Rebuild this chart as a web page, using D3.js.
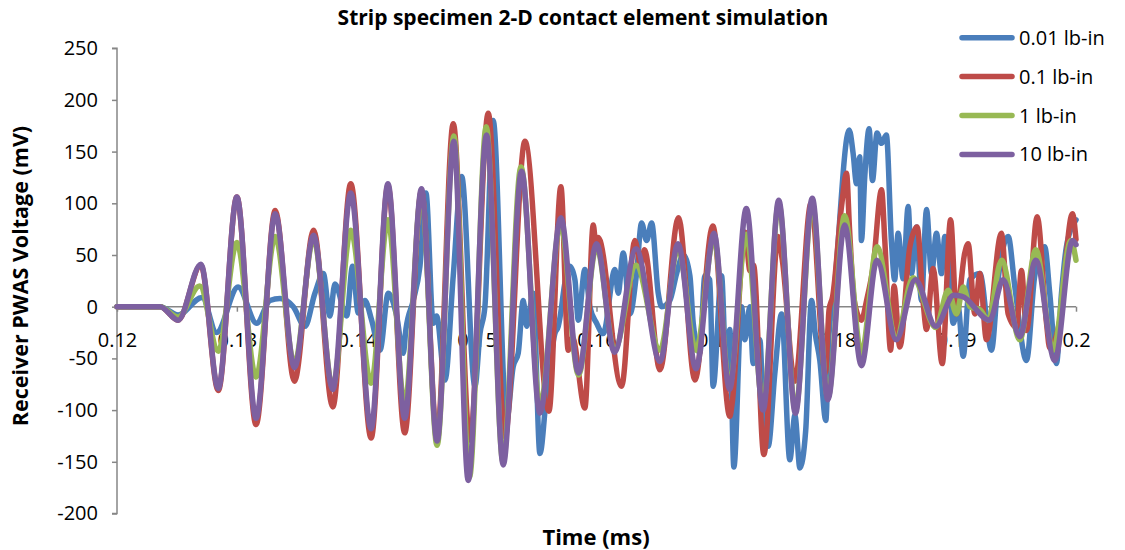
<!DOCTYPE html>
<html>
<head>
<meta charset="utf-8">
<script src="https://cdn.jsdelivr.net/npm/d3@7"></script>
<style>
  body { margin: 0; background: #fff; }
  text { font-family: "Open Sans", sans-serif; fill: #000; }
  .axis path, .axis line { stroke: #868686; stroke-width: 1.5; }
</style>
</head>
<body>
<div id="chart"></div>
<script>
// data: [time (ms), voltage (mV)]
var labels = ["0.01 lb-in", "0.1 lb-in", "1 lb-in", "10 lb-in"];
var colors = ["#4a7ebb", "#be4b48", "#98b954", "#7d60a0"];
var xTicks = [0.12, 0.13, 0.14, 0.15, 0.16, 0.17, 0.18, 0.19, 0.2];
var yTicks = [-200, -150, -100, -50, 0, 50, 100, 150, 200, 250];

var s001 = [[0.1200,0],[0.1236,0],[0.1251,-8],[0.1271,9],[0.1283,-25],[0.1301,19],[0.13165,-16],[0.13276,6],[0.1336,8],[0.13471,0],[0.13568,-19],[0.13651,13],[0.13721,32],[0.13776,-9],[0.13818,22],[0.13916,-9],[0.13965,39],[0.14013,-6],[0.14068,6],[0.14124,-13],[0.14194,-42],[0.14263,13],[0.14333,-9],[0.14388,-45],[0.1441,-22],[0.14471,6],[0.14527,39],[0.14577,110],[0.14638,-16],[0.14666,-9],[0.14736,-71],[0.14805,30],[0.14875,126],[0.14986,-77],[0.15028,-26],[0.15069,0],[0.15138,180],[0.1525,-110],[0.15305,-58],[0.15347,-45],[0.15389,6],[0.15417,-19],[0.15472,13],[0.15528,-142],[0.15584,-84],[0.15653,-26],[0.15681,-19],[0.15709,0],[0.15723,13],[0.15778,39],[0.1582,26],[0.15848,-13],[0.15903,36],[0.15945,0],[0.16001,-16],[0.16056,-26],[0.16154,36],[0.16181,13],[0.16223,52],[0.16279,-7],[0.16334,32],[0.16376,81],[0.16418,64],[0.1646,81],[0.16515,13],[0.16543,0],[0.16612,6],[0.16668,32],[0.16723,50],[0.16779,30],[0.16807,-16],[0.16862,-45],[0.16904,30],[0.16945,26],[0.16973,-77],[0.17043,30],[0.17084,-70],[0.17112,-22],[0.17146,-155],[0.1721,0],[0.17238,-32],[0.17279,0],[0.17307,-55],[0.17363,-32],[0.1739,-100],[0.17432,-135],[0.17488,-64],[0.17544,-7],[0.17613,-148],[0.17655,-105],[0.17697,-156],[0.17745,-120],[0.17794,6],[0.17825,-26],[0.17863,-52],[0.17913,-110],[0.1794,-26],[0.17975,6],[0.18108,171],[0.18141,148],[0.18169,119],[0.18196,145],[0.1821,64],[0.18238,126],[0.18274,172],[0.18302,122],[0.1834,168],[0.18377,158],[0.18418,166],[0.1846,64],[0.18487,26],[0.18516,71],[0.18558,27],[0.186,97],[0.18628,32],[0.18669,77],[0.18711,6],[0.18753,94],[0.18795,32],[0.18836,71],[0.18878,32],[0.18906,68],[0.18947,26],[0.18975,-16],[0.19017,0],[0.19059,-48],[0.19114,26],[0.19198,32],[0.19295,-42],[0.1935,26],[0.19434,68],[0.1949,19],[0.19587,-52],[0.19656,30],[0.19739,58],[0.19781,13],[0.19837,-55],[0.19879,13],[0.1992,58],[0.2,84]];

var s01 = [[0.12,0],[0.1236,0],[0.1251,-13],[0.127,40],[0.12845,-81],[0.13,106],[0.1316,-114],[0.1332,93],[0.1348,-72],[0.1364,74],[0.138,-97],[0.1395,119],[0.1412,-127],[0.1426,117],[0.144,-122],[0.1454,112],[0.1467,-125],[0.14805,177],[0.14944,-129],[0.15097,187],[0.15236,-126],[0.15403,160],[0.15603,-101],[0.15703,116],[0.15764,-42],[0.158,-30],[0.15903,-98],[0.15973,79],[0.15995,60],[0.16014,67],[0.16209,-77],[0.1632,64],[0.1637,40],[0.164,55],[0.16529,-61],[0.16684,86],[0.16821,-71],[0.1697,78],[0.17112,-106],[0.1713,-95],[0.1724,72],[0.1728,35],[0.1731,40],[0.17396,-143],[0.17515,68],[0.1755,45],[0.17655,-72],[0.1779,100],[0.1791,-64],[0.1794,-3],[0.1797,10],[0.18044,97],[0.18086,129],[0.1811,77],[0.1815,6],[0.1821,-13],[0.18253,6],[0.18308,39],[0.18378,113],[0.18405,64],[0.18454,-42],[0.18482,20],[0.1853,-39],[0.18614,58],[0.18675,77],[0.18725,4],[0.18753,-22],[0.18808,37],[0.18884,-55],[0.18954,84],[0.19003,-7],[0.19072,52],[0.191,61],[0.19156,-7],[0.19198,32],[0.19253,-32],[0.19378,71],[0.19434,-7],[0.19504,-20],[0.19545,35],[0.19587,-23],[0.19676,87],[0.19754,-16],[0.19781,-40],[0.19865,-13],[0.1997,90],[0.2,65]];

var s1 = [[0.12,0],[0.1236,0],[0.1251,-10],[0.1269,20],[0.12845,-43],[0.13,62],[0.1316,-68],[0.1332,68],[0.1348,-55],[0.1364,66],[0.138,-78],[0.1395,74],[0.1412,-74],[0.1426,84],[0.144,-95],[0.1454,110],[0.1467,-134],[0.1481,165],[0.1494,-165],[0.1508,174],[0.1522,-150],[0.1537,135],[0.1553,-95],[0.157,80],[0.1585,-66],[0.16,58],[0.1615,-42],[0.1633,40],[0.1653,-42],[0.1668,56],[0.1683,-42],[0.1698,66],[0.1711,-75],[0.1725,70],[0.1739,-95],[0.1752,100],[0.1766,-100],[0.178,100],[0.1793,-88],[0.1807,88],[0.1821,-45],[0.1834,58],[0.185,-30],[0.1864,28],[0.1883,-20],[0.18934,16],[0.19003,-7],[0.19059,19],[0.19115,0],[0.192,-3],[0.19267,-13],[0.19379,45],[0.19531,-32],[0.19665,55],[0.19809,-42],[0.19957,64],[0.2,45]];

var s10 = [[0.12,0],[0.1236,0],[0.1251,-13],[0.127,41],[0.12845,-79],[0.13,106],[0.1316,-108],[0.1332,90],[0.1348,-59],[0.1364,69],[0.138,-80],[0.1395,110],[0.1412,-118],[0.1426,119],[0.144,-108],[0.1454,114],[0.1467,-130],[0.1481,160],[0.1493,-168],[0.15083,166],[0.15222,-153],[0.15375,131],[0.15528,-103],[0.15703,86],[0.1585,-64],[0.16,61],[0.1615,-44],[0.1633,56],[0.1653,-53],[0.1668,61],[0.1683,-60],[0.1698,71],[0.1711,-80],[0.1725,95],[0.1739,-100],[0.1752,103],[0.1766,-103],[0.178,105],[0.1793,-90],[0.1807,79],[0.1821,-57],[0.1834,45],[0.185,-32],[0.1866,26],[0.1883,-19],[0.1898,11],[0.1905,10],[0.1928,-13],[0.19392,26],[0.19531,-29],[0.19665,45],[0.19823,-52],[0.19971,64],[0.2,60]];

var series = [s001, s01, s1, s10];

// set up layout
var W = 1125, H = 550;
var margin = { top: 48.2, left: 117, right: 49, bottom: 36.5 };
var width = W - margin.left - margin.right,
    height = H - margin.top - margin.bottom;

var svg = d3.select("#chart").append("svg")
    .attr("width", W)
    .attr("height", H);

var g = svg.append("g")
    .attr("transform", "translate(" + margin.left + "," + margin.top + ")");

// scales
var x = d3.scaleLinear().domain([0.12, 0.2]).range([0, width]);
var y = d3.scaleLinear().domain([-200, 250]).range([height, 0]);

// y-axis (plain hyphen for negatives, like the original)
var yAxis = d3.axisLeft(y)
    .tickValues(yTicks)
    .tickSize(5)
    .tickPadding(14)
    .tickFormat(function (d) { return String(d); });

g.append("g")
    .attr("class", "axis")
    .call(yAxis)
    .call(function (a) { a.select(".domain").attr("d", "M-5,0H0V" + height + "H-5"); })
    .selectAll("text")
    .style("font-size", "20px");

// x-axis sits on the zero line
var xAxis = d3.axisBottom(x)
    .tickValues(xTicks)
    .tickSize(5)
    .tickPadding(21)
    .tickFormat(function (d) { return String(+d.toFixed(2)); });

g.append("g")
    .attr("class", "axis")
    .attr("transform", "translate(0," + y(0) + ")")
    .call(xAxis)
    .call(function (a) { a.select(".domain").attr("d", "M0,0H" + width); })
    .selectAll("text")
    .style("font-size", "20px");

// draw lines
var line = d3.line()
    .x(function (d) { return x(d[0]); })
    .y(function (d) { return y(d[1]); })
    .curve(d3.curveMonotoneX);

g.selectAll(".series")
    .data(series)
    .enter().append("path")
    .attr("class", "series")
    .attr("d", line)
    .attr("fill", "none")
    .attr("stroke", function (d, i) { return colors[i]; })
    .attr("stroke-width", 5.5)
    .attr("stroke-linejoin", "round")
    .attr("stroke-linecap", "round");

// title
svg.append("text")
    .attr("x", 583)
    .attr("y", 25)
    .style("text-anchor", "middle")
    .style("font-size", "21px")
    .style("font-weight", "bold")
    .text("Strip specimen 2-D contact element simulation");

// axis titles
svg.append("text")
    .attr("transform", "translate(20,276) rotate(-90)")
    .attr("dy", ".35em")
    .style("text-anchor", "middle")
    .style("font-size", "21.5px")
    .style("font-weight", "bold")
    .text("Receiver PWAS Voltage (mV)");

svg.append("text")
    .attr("x", 596)
    .attr("y", 537)
    .attr("dy", ".35em")
    .style("text-anchor", "middle")
    .style("font-size", "22px")
    .style("font-weight", "bold")
    .text("Time (ms)");

// draw legend
var legend = svg.selectAll(".legend")
    .data(labels)
    .enter().append("g")
    .attr("class", "legend")
    .attr("transform", function (d, i) { return "translate(0," + (37.7 + i * 38.9) + ")"; });

legend.append("line")
    .attr("x1", 962)
    .attr("x2", 1012)
    .attr("stroke", function (d, i) { return colors[i]; })
    .attr("stroke-width", 5.5)
    .attr("stroke-linecap", "round");

legend.append("text")
    .attr("x", 1019)
    .attr("dy", ".35em")
    .style("font-size", "20px")
    .text(function (d) { return d; });
</script>
</body>
</html>
